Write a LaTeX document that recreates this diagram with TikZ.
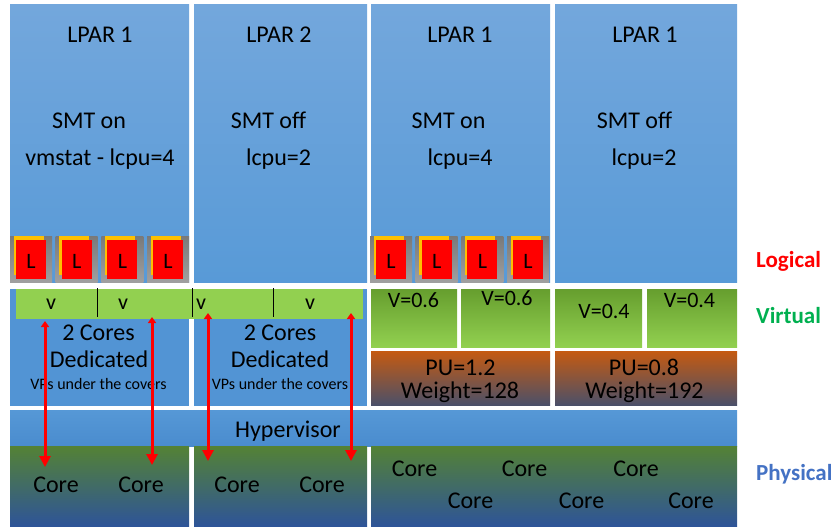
\documentclass[tikz,border=0pt]{standalone}
\usepackage{fontspec}
\setmainfont{Carlito}
\usetikzlibrary{arrows.meta}

\definecolor{lpartop}{RGB}{115,167,220}
\definecolor{lparbot}{RGB}{88,154,215}
\definecolor{dedblue}{RGB}{82,148,212}
\definecolor{vgreen}{RGB}{146,208,80}
\definecolor{vdark}{RGB}{102,158,46}
\definecolor{puorange}{RGB}{197,90,17}
\definecolor{pugray}{RGB}{74,80,106}
\definecolor{hyptop}{RGB}{86,152,214}
\definecolor{hypbot}{RGB}{74,140,206}
\definecolor{phgreen}{RGB}{84,130,53}
\definecolor{phblue}{RGB}{46,84,152}
\definecolor{lorange}{RGB}{255,192,0}
\definecolor{virtgreen}{RGB}{0,176,80}
\definecolor{physblue}{RGB}{68,114,196}

\tikzset{
  txt/.style={anchor=base, inner sep=0pt, font=\fontsize{24}{26}\selectfont},
  smalltxt/.style={anchor=base, inner sep=0pt, font=\fontsize{16}{18}\selectfont},
  vtxt/.style={anchor=base, inner sep=0pt, font=\fontsize{22}{24}\selectfont},
  ltxt/.style={anchor=base, inner sep=0pt, font=\fontsize{22}{24}\selectfont},
  layer/.style={anchor=base west, inner sep=0pt, font=\fontsize{23}{25}\selectfont\bfseries},
  redarrow/.style={red, line width=3pt, {Triangle[width=8pt,length=6pt]}-{Triangle[width=11pt,length=11pt]}}
}

\begin{document}
\begin{tikzpicture}[x=1pt,y=-1pt]
  \useasboundingbox (0,0) rectangle (838,527);
  % LPAR columns
  \foreach \xa/\xb in {10/189,194/367,371/550,555/737}
    \shade[top color=lpartop,bottom color=lparbot] (\xa,5) rectangle (\xb,282);
  \node[txt] (lparA) at (100,43) {LPAR 1};
  \node[txt] (lparB) at (279,43) {LPAR 2};
  \node[txt] (lparC) at (460,43) {LPAR 1};
  \node[txt] (lparD) at (645,43) {LPAR 1};
  \node[txt] (smtA) at (89,128) {SMT on};
  \node[txt] (smtB) at (268.5,128) {SMT off};
  \node[txt] (smtC) at (448.5,128) {SMT on};
  \node[txt] (smtD) at (634.5,128) {SMT off};
  \node[txt] (lcpuA) at (100,165) {vmstat - lcpu=4};
  \node[txt] (lcpuB) at (278.5,165) {lcpu=2};
  \node[txt] (lcpuC) at (460,165) {lcpu=4};
  \node[txt] (lcpuD) at (644,165) {lcpu=2};
  % logical CPUs
  \foreach \c in {10,370}
    \foreach \i in {0,...,3} {
      \shade[top color=gray!95!black, bottom color=gray!75] (\c+\i*45.7,236) rectangle ++(42,46);
      \fill[lorange] (\c+\i*45.7+3.5,235.5) rectangle ++(30,39.5);
      \fill[red] (\c+\i*45.7+6,240) rectangle ++(30,38.5);
      \node[ltxt] (l\c\i) at (\c+\i*45.7+21,268) {L};
    }
  % dedicated partitions
  \foreach \xa/\xb in {10/189,194/367}
    \fill[dedblue] (\xa,289) rectangle (\xb,405.5);
  \fill[vgreen] (16,289) rectangle (363,319);
  \foreach \x in {97,192,273}
    \draw[black, line width=0.8pt] (\x,288) -- (\x,317);
  \node[vtxt] (vA) at (51,309) {v};
  \node[vtxt] (vB) at (123,309) {v};
  \node[vtxt] (vC) at (201,309) {v};
  \node[vtxt] (vD) at (310,309) {v};
  \node[txt] (coresA) at (98.5,340) {2 Cores};
  \node[txt] (dedA) at (99,367.5) {Dedicated};
  \node[smalltxt] (vpsA) at (98.5,389) {VPs under the covers};
  \node[txt] (coresB) at (280,340) {2 Cores};
  \node[txt] (dedB) at (280,367.5) {Dedicated};
  \node[smalltxt] (vpsB) at (280,389) {VPs under the covers};
  % shared partitions
  \foreach \xa/\xb in {371/457,461/550,555/642,647/737}
    \shade[top color=vdark,bottom color=vgreen] (\xa,289) rectangle (\xb,347);
  \node[vtxt] (vpC1) at (413.5,307) {V=0.6};
  \node[vtxt] (vpC2) at (507,305) {V=0.6};
  \node[vtxt] (vpD1) at (604,318) {V=0.4};
  \node[vtxt] (vpD2) at (689.5,307) {V=0.4};
  \foreach \xa/\xb in {371/550,555/737}
    \shade[top color=puorange,bottom color=pugray] (\xa,351) rectangle (\xb,405.5);
  \node[txt] (puC) at (460.5,375) {PU=1.2};
  \node[txt] (wC) at (460,398) {Weight=128};
  \node[txt] (puD) at (644,375) {PU=0.8};
  \node[txt] (wD) at (644.5,398) {Weight=192};
  % hypervisor and hardware
  \shade[top color=hyptop,bottom color=hypbot] (10,410) rectangle (737,446.5);
  \node[txt] (hyp) at (288,437) {Hypervisor};
  \foreach \xa/\xb in {10/189,194/367,371/737}
    \shade[top color=phgreen,bottom color=phblue] (\xa,446) rectangle (\xb,526);
  \node[txt] (coreA1) at (56,492) {Core};
  \node[txt] (coreA2) at (141,492) {Core};
  \node[txt] (coreB1) at (237,492) {Core};
  \node[txt] (coreB2) at (322,492) {Core};
  \node[txt] (coreC1) at (414.5,476) {Core};
  \node[txt] (coreC2) at (524.5,476) {Core};
  \node[txt] (coreC3) at (636,476) {Core};
  \node[txt] (coreC4) at (470.5,508) {Core};
  \node[txt] (coreC5) at (581.5,508) {Core};
  \node[txt] (coreC6) at (691,508) {Core};
  % dispatch arrows
  \coordinate (a1t) at (45,321);
  \coordinate (a1b) at (45,467);
  \coordinate (a2t) at (152,317);
  \coordinate (a2b) at (152,465);
  \coordinate (a3t) at (208,313);
  \coordinate (a3b) at (208,461);
  \coordinate (a4t) at (351,313);
  \coordinate (a4b) at (351,461);
  \draw[redarrow] (a1t) -- (a1b);
  \draw[redarrow] (a2t) -- (a2b);
  \draw[redarrow] (a3t) -- (a3b);
  \draw[redarrow] (a4t) -- (a4b);
  % layer labels
  \node[layer, red] (logical) at (756,267) {Logical};
  \node[layer, virtgreen] (virtual) at (756,323) {Virtual};
  \node[layer, physblue] (physical) at (756,480) {Physical};
\end{tikzpicture}
\end{document}
